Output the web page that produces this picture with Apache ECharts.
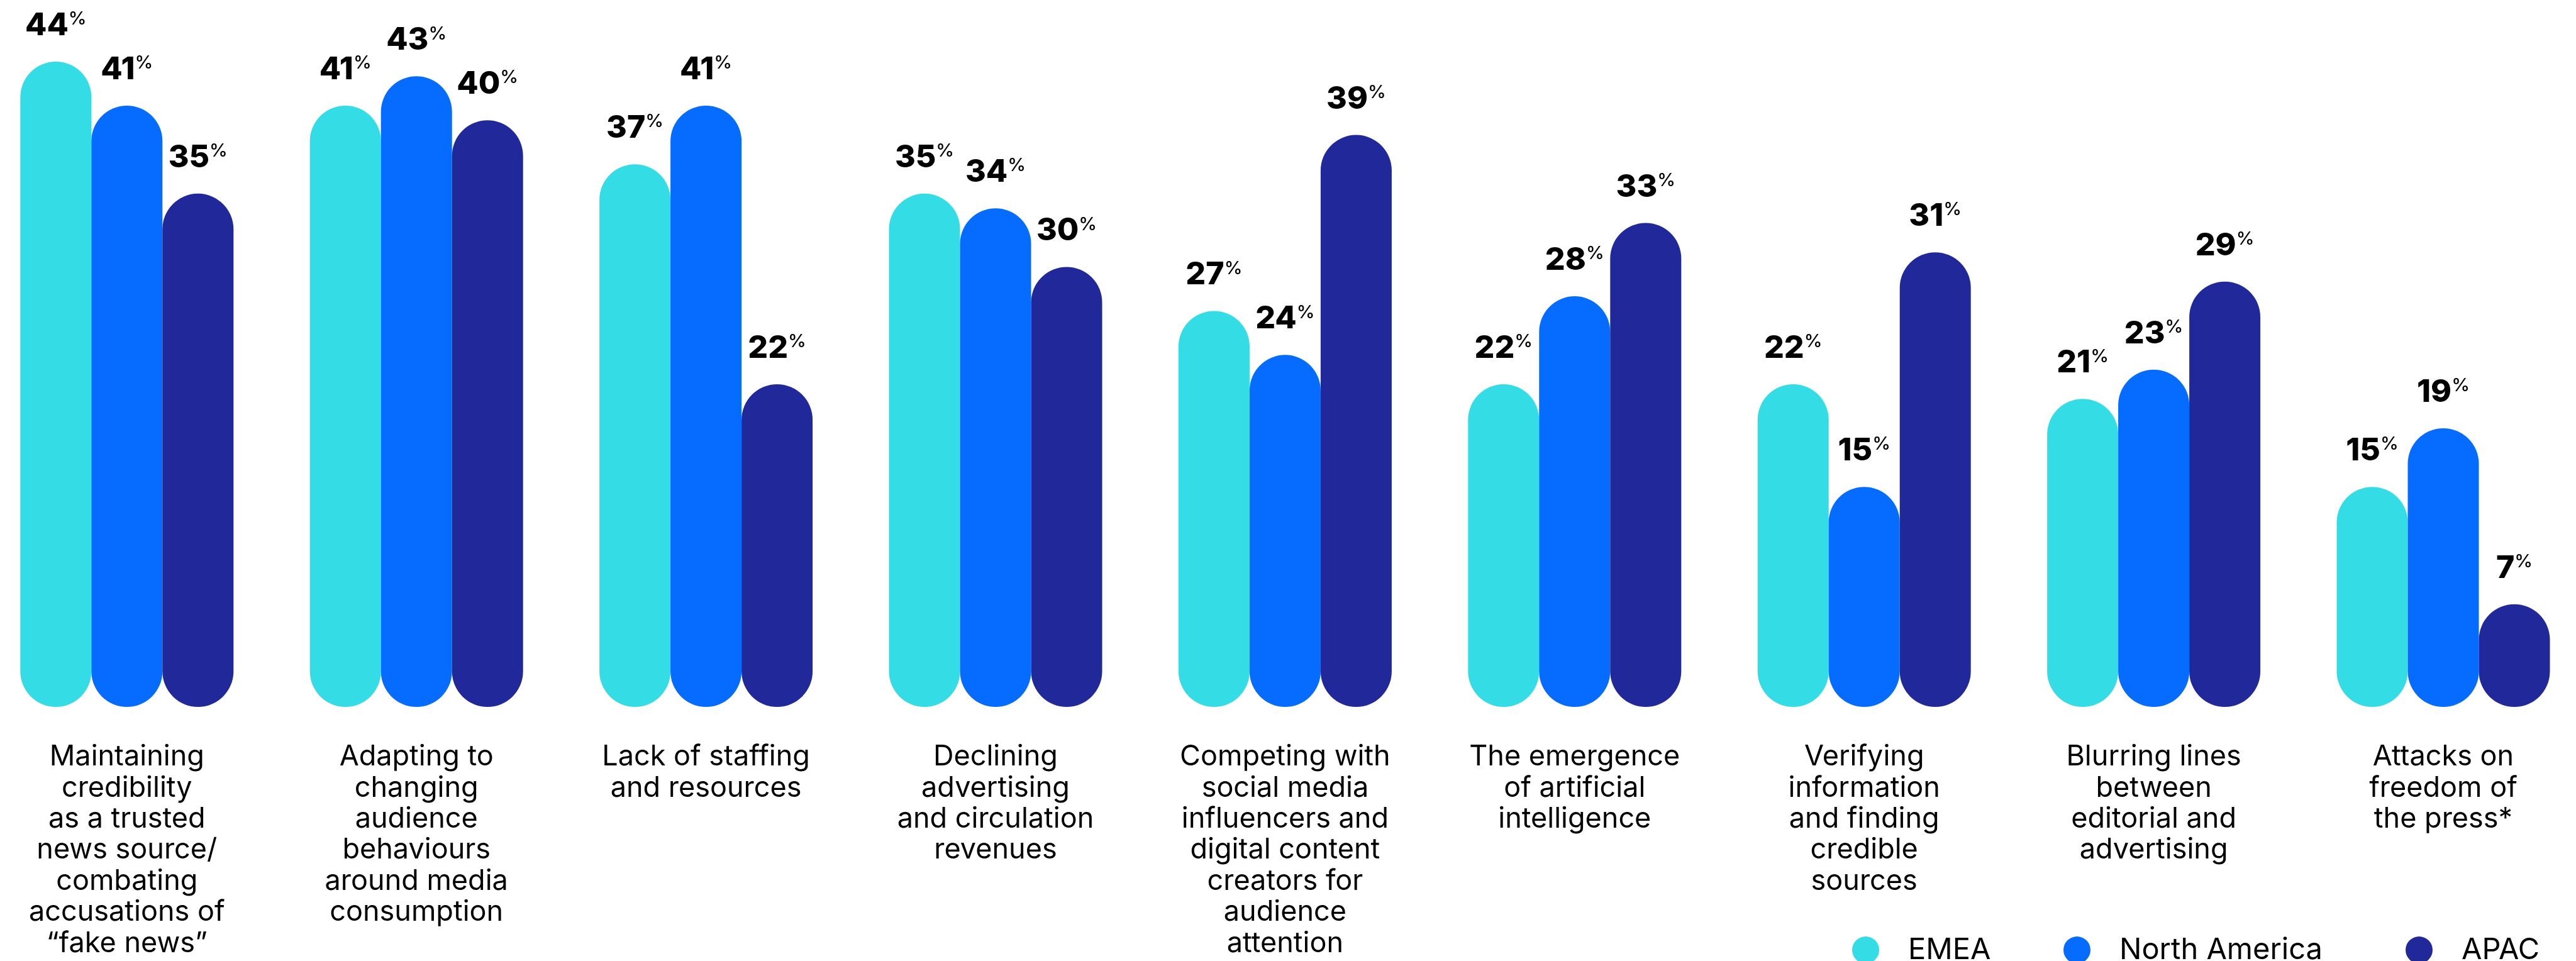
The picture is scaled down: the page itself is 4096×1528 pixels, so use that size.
<!DOCTYPE html>
<html>
<head>
<meta charset="utf-8">
<title>Newsroom challenges by region</title>
<script src="https://cdn.jsdelivr.net/npm/echarts@6/dist/echarts.min.js"></script>
<style>
  html, body { margin: 0; padding: 0; background: #ffffff; }
  #chart { width: 4096px; height: 1528px; }
</style>
</head>
<body>
<div id="chart"></div>
<script>
// Challenges, one group of three bars each
const categories = [
  'Maintaining\ncredibility\nas a trusted\nnews source/\ncombating\naccusations of\n\u201cfake news\u201d',
  'Adapting to\nchanging\naudience\nbehaviours\naround media\nconsumption',
  'Lack of staffing\nand resources',
  'Declining\nadvertising\nand circulation\nrevenues',
  'Competing with\nsocial media\ninfluencers and\ndigital content\ncreators for\naudience\nattention',
  'The emergence\nof artificial\nintelligence',
  'Verifying\ninformation\nand finding\ncredible\nsources',
  'Blurring lines\nbetween\neditorial and\nadvertising',
  'Attacks on\nfreedom of\nthe press*'
];

// Share of respondents per region (%)
const regions = ['EMEA', 'North America', 'APAC'];
const emea         = [44, 41, 37, 35, 27, 22, 22, 21, 15];
const northAmerica = [41, 43, 41, 34, 24, 28, 15, 23, 19];
const apac         = [35, 40, 22, 30, 39, 33, 31, 29, 7];

const colors = ['#34DCE6', '#066CFF', '#212899'];
const FONT = 'Inter, "Noto Sans", Lato, sans-serif';
const BAR_W = 113;

function barSeries(name, values, color) {
  return {
    name: name,
    type: 'bar',
    data: values,
    barWidth: BAR_W,
    barGap: '0%',
    itemStyle: {
      color: color,
      borderRadius: BAR_W / 2
    },
    label: {
      show: true,
      position: 'top',
      distance: 32,
      formatter: p => '{n|' + p.value + '}{p|%}',
      rich: {
        n: {
          fontFamily: FONT,
          fontSize: 50,
          fontWeight: 800,
          color: '#000000',
          lineHeight: 50
        },
        p: {
          fontFamily: FONT,
          fontSize: 29,
          fontWeight: 500,
          color: '#000000',
          lineHeight: 26,
          verticalAlign: 'top'
        }
      }
    }
  };
}

// One legend per region so each entry sits in its own place
function legendAt(name, left) {
  return {
    data: [name],
    left: left,
    top: 1482,
    icon: 'circle',
    itemWidth: 43,
    itemHeight: 43,
    selectedMode: false,
    textStyle: {
      fontFamily: FONT,
      fontSize: 47,
      color: '#000000',
      lineHeight: 43,
      padding: [0, 0, 0, 41]
    }
  };
}

const chart = echarts.init(document.getElementById('chart'), null, { renderer: 'canvas' });

chart.setOption({
  backgroundColor: '#ffffff',
  animation: false,
  color: colors,
  legend: [
    legendAt(regions[0], 2940),
    legendAt(regions[1], 3276),
    legendAt(regions[2], 3820)
  ],
  grid: {
    left: -28.4,
    width: 4143.6,
    top: 98,
    bottom: 404,
    containLabel: false,
    outerBoundsMode: 'none'
  },
  xAxis: {
    type: 'category',
    data: categories,
    axisLine: { show: false },
    axisTick: { show: false },
    splitLine: { show: false },
    axisLabel: {
      interval: 0,
      margin: 55,
      fontFamily: FONT,
      fontSize: 45,
      lineHeight: 49.4,
      color: '#000000',
      align: 'center'
    }
  },
  yAxis: {
    type: 'value',
    min: 0,
    max: 44,
    show: false,
    splitLine: { show: false }
  },
  series: [
    barSeries(regions[0], emea, colors[0]),
    barSeries(regions[1], northAmerica, colors[1]),
    barSeries(regions[2], apac, colors[2])
  ]
});
</script>
</body>
</html>
